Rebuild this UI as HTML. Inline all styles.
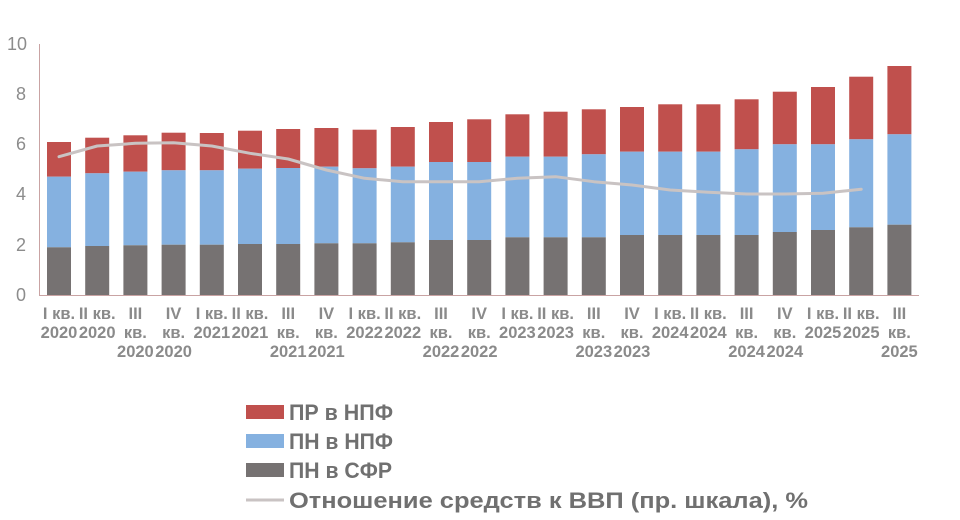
<!DOCTYPE html>
<html><head><meta charset="utf-8"><style>
body{margin:0;background:#fff}
svg{display:block}
text{font-family:"Liberation Sans",sans-serif}
.t{fill:#8c8c8c;font-size:18px}
.l{fill:#8a8a8a;font-size:16.5px;font-weight:bold;text-anchor:middle}
.g{fill:#707070;font-size:22px;font-weight:bold}
</style></head><body>
<svg width="960" height="520" viewBox="0 0 960 520">
<g class="t" text-anchor="end">
<text x="26" y="301">0</text><text x="26" y="251">2</text><text x="26" y="200">4</text><text x="26" y="150">6</text><text x="26" y="100">8</text><text x="27" y="50">10</text>
</g>
<line x1="39.5" y1="44" x2="39.5" y2="295" stroke="#c9a3a3" stroke-width="1"/>
<g fill="#c0504d">
<rect x="47" y="142" width="24" height="34.7"/>
<rect x="85.2" y="137.7" width="24" height="35.6"/>
<rect x="123.4" y="135.3" width="24" height="36.4"/>
<rect x="161.6" y="132.7" width="24" height="37.6"/>
<rect x="199.8" y="133" width="24" height="37.3"/>
<rect x="238" y="130.7" width="24" height="38"/>
<rect x="276.2" y="129" width="24" height="39"/>
<rect x="314.4" y="128" width="24" height="38.7"/>
<rect x="352.6" y="129.7" width="24" height="38.6"/>
<rect x="390.8" y="127" width="24" height="39.7"/>
<rect x="429" y="122" width="24" height="40"/>
<rect x="467.2" y="119.3" width="24" height="42.7"/>
<rect x="505.4" y="114.3" width="24" height="42.4"/>
<rect x="543.6" y="111.7" width="24" height="45"/>
<rect x="581.8" y="109.3" width="24" height="45"/>
<rect x="620" y="107" width="24" height="44.7"/>
<rect x="658.2" y="104.3" width="24" height="47.4"/>
<rect x="696.4" y="104.3" width="24" height="47.4"/>
<rect x="734.6" y="99.3" width="24" height="50"/>
<rect x="772.8" y="91.7" width="24" height="52.6"/>
<rect x="811" y="87" width="24" height="57.3"/>
<rect x="849.2" y="76.7" width="24" height="62.6"/>
<rect x="887.4" y="66" width="24" height="68.3"/>
</g>
<g fill="#85b1e0">
<rect x="47" y="176.7" width="24" height="70.6"/>
<rect x="85.2" y="173.3" width="24" height="72.7"/>
<rect x="123.4" y="171.7" width="24" height="73.6"/>
<rect x="161.6" y="170.3" width="24" height="74.4"/>
<rect x="199.8" y="170.3" width="24" height="74.4"/>
<rect x="238" y="168.7" width="24" height="75.3"/>
<rect x="276.2" y="168" width="24" height="76"/>
<rect x="314.4" y="166.7" width="24" height="76.6"/>
<rect x="352.6" y="168.3" width="24" height="75"/>
<rect x="390.8" y="166.7" width="24" height="75.6"/>
<rect x="429" y="162" width="24" height="78"/>
<rect x="467.2" y="162" width="24" height="78"/>
<rect x="505.4" y="156.7" width="24" height="80.6"/>
<rect x="543.6" y="156.7" width="24" height="80.6"/>
<rect x="581.8" y="154.3" width="24" height="83"/>
<rect x="620" y="151.7" width="24" height="83.3"/>
<rect x="658.2" y="151.7" width="24" height="83.3"/>
<rect x="696.4" y="151.7" width="24" height="83.3"/>
<rect x="734.6" y="149.3" width="24" height="85.7"/>
<rect x="772.8" y="144.3" width="24" height="87.7"/>
<rect x="811" y="144.3" width="24" height="85.7"/>
<rect x="849.2" y="139.3" width="24" height="88"/>
<rect x="887.4" y="134.3" width="24" height="90.4"/>
</g>
<g fill="#767272">
<rect x="47" y="247.3" width="24" height="47.7"/>
<rect x="85.2" y="246" width="24" height="49"/>
<rect x="123.4" y="245.3" width="24" height="49.7"/>
<rect x="161.6" y="244.7" width="24" height="50.3"/>
<rect x="199.8" y="244.7" width="24" height="50.3"/>
<rect x="238" y="244" width="24" height="51"/>
<rect x="276.2" y="244" width="24" height="51"/>
<rect x="314.4" y="243.3" width="24" height="51.7"/>
<rect x="352.6" y="243.3" width="24" height="51.7"/>
<rect x="390.8" y="242.3" width="24" height="52.7"/>
<rect x="429" y="240" width="24" height="55"/>
<rect x="467.2" y="240" width="24" height="55"/>
<rect x="505.4" y="237.3" width="24" height="57.7"/>
<rect x="543.6" y="237.3" width="24" height="57.7"/>
<rect x="581.8" y="237.3" width="24" height="57.7"/>
<rect x="620" y="235" width="24" height="60"/>
<rect x="658.2" y="235" width="24" height="60"/>
<rect x="696.4" y="235" width="24" height="60"/>
<rect x="734.6" y="235" width="24" height="60"/>
<rect x="772.8" y="232" width="24" height="63"/>
<rect x="811" y="230" width="24" height="65"/>
<rect x="849.2" y="227.3" width="24" height="67.7"/>
<rect x="887.4" y="224.7" width="24" height="70.3"/>
</g>
<line x1="39" y1="295.5" x2="919" y2="295.5" stroke="#c9a3a3" stroke-width="1"/>
<polyline fill="none" stroke="#c9c3c3" stroke-width="3" stroke-linejoin="round" stroke-linecap="round" points="59,156.7 97.2,146 135.4,143.3 173.6,142.7 211.8,146 250,153.3 288.2,159 326.4,170 364.6,178.3 402.8,181.7 441,181.7 479.2,181.7 517.4,178.3 555.6,176.7 593.8,181.7 632,185 670.2,190 708.4,192.3 746.6,194 784.8,194 823,193.3 861.2,189.3"/>
<g class="l">
<text x="59" y="319">I кв.</text><text x="59" y="338">2020</text>
<text x="97.2" y="319">II кв.</text><text x="97.2" y="338">2020</text>
<text x="135.4" y="319">III</text><text x="135.4" y="338">кв.</text><text x="135.4" y="357">2020</text>
<text x="173.6" y="319">IV</text><text x="173.6" y="338">кв.</text><text x="173.6" y="357">2020</text>
<text x="211.8" y="319">I кв.</text><text x="211.8" y="338">2021</text>
<text x="250" y="319">II кв.</text><text x="250" y="338">2021</text>
<text x="288.2" y="319">III</text><text x="288.2" y="338">кв.</text><text x="288.2" y="357">2021</text>
<text x="326.4" y="319">IV</text><text x="326.4" y="338">кв.</text><text x="326.4" y="357">2021</text>
<text x="364.6" y="319">I кв.</text><text x="364.6" y="338">2022</text>
<text x="402.8" y="319">II кв.</text><text x="402.8" y="338">2022</text>
<text x="441" y="319">III</text><text x="441" y="338">кв.</text><text x="441" y="357">2022</text>
<text x="479.2" y="319">IV</text><text x="479.2" y="338">кв.</text><text x="479.2" y="357">2022</text>
<text x="517.4" y="319">I кв.</text><text x="517.4" y="338">2023</text>
<text x="555.6" y="319">II кв.</text><text x="555.6" y="338">2023</text>
<text x="593.8" y="319">III</text><text x="593.8" y="338">кв.</text><text x="593.8" y="357">2023</text>
<text x="632" y="319">IV</text><text x="632" y="338">кв.</text><text x="632" y="357">2023</text>
<text x="670.2" y="319">I кв.</text><text x="670.2" y="338">2024</text>
<text x="708.4" y="319">II кв.</text><text x="708.4" y="338">2024</text>
<text x="746.6" y="319">III</text><text x="746.6" y="338">кв.</text><text x="746.6" y="357">2024</text>
<text x="784.8" y="319">IV</text><text x="784.8" y="338">кв.</text><text x="784.8" y="357">2024</text>
<text x="823" y="319">I кв.</text><text x="823" y="338">2025</text>
<text x="861.2" y="319">II кв.</text><text x="861.2" y="338">2025</text>
<text x="899.4" y="319">III</text><text x="899.4" y="338">кв.</text><text x="899.4" y="357">2025</text>
</g>
<rect x="246" y="405" width="38" height="14" fill="#c0504d"/>
<rect x="246" y="434" width="38" height="14" fill="#85b1e0"/>
<rect x="246" y="463" width="38" height="14" fill="#767272"/>
<line x1="246" y1="500" x2="284" y2="500" stroke="#c9c3c3" stroke-width="3"/>
<g class="g">
<text x="289" y="420" textLength="104" lengthAdjust="spacingAndGlyphs">ПР в НПФ</text>
<text x="289" y="449" textLength="104" lengthAdjust="spacingAndGlyphs">ПН в НПФ</text>
<text x="289" y="478" textLength="103" lengthAdjust="spacingAndGlyphs">ПН в СФР</text>
<text x="289" y="508" textLength="519" lengthAdjust="spacingAndGlyphs">Отношение  средств к ВВП (пр. шкала), %</text>
</g>
</svg>
</body></html>
